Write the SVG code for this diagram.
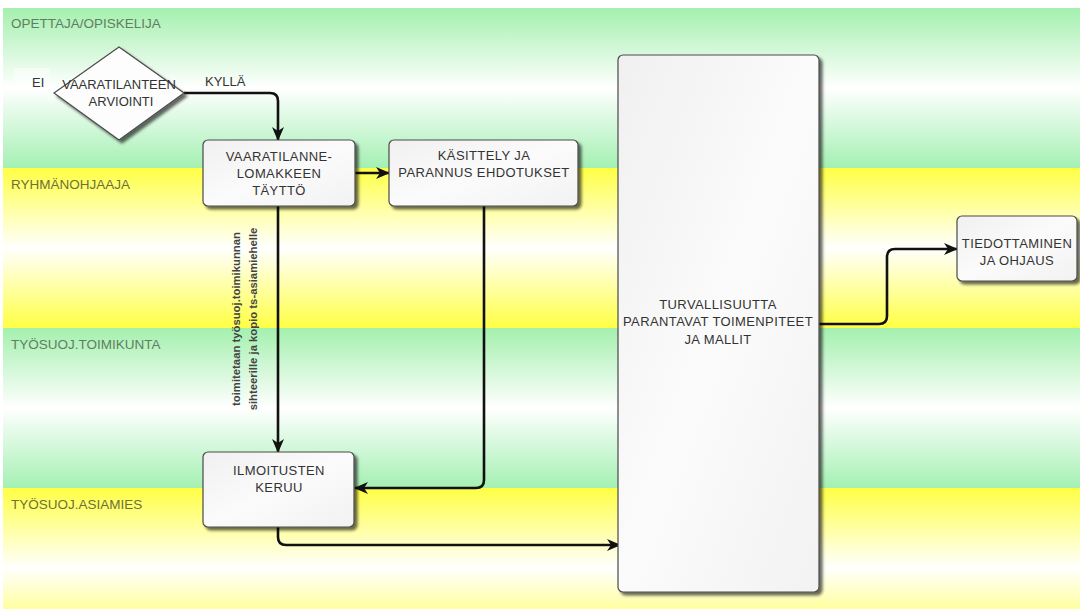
<svg xmlns="http://www.w3.org/2000/svg" width="1080" height="609" viewBox="0 0 1080 609">
<defs>
<linearGradient id="gGreen" x1="0" y1="0" x2="0" y2="1">
<stop offset="0" stop-color="#a4f0ae"/>
<stop offset="0.5" stop-color="#ffffff"/>
<stop offset="1" stop-color="#a4f0b2"/>
</linearGradient>
<linearGradient id="gYellow" x1="0" y1="0" x2="0" y2="1">
<stop offset="0" stop-color="#ffff44"/>
<stop offset="0.5" stop-color="#ffffff"/>
<stop offset="1" stop-color="#ffff44"/>
</linearGradient>
<linearGradient id="gBox" x1="0" y1="0" x2="1" y2="1">
<stop offset="0" stop-color="#f0f0f0"/>
<stop offset="0.5" stop-color="#fbfbfb"/>
<stop offset="1" stop-color="#f2f2f2"/>
</linearGradient>
<filter id="shadow" x="-10%" y="-10%" width="130%" height="130%">
<feGaussianBlur in="SourceAlpha" stdDeviation="1.5"/>
<feOffset dx="3" dy="3" result="b"/>
<feComponentTransfer><feFuncA type="linear" slope="0.6"/></feComponentTransfer>
<feMerge><feMergeNode/><feMergeNode in="SourceGraphic"/></feMerge>
</filter>
<marker id="arrow" viewBox="0 0 14 12" refX="13" refY="6" markerWidth="14" markerHeight="12" markerUnits="userSpaceOnUse" orient="auto">
<path d="M0,0 L14,6 L0,12 L4,6 z" fill="#111"/>
</marker>
</defs>
<style>
.lane{font-family:"Liberation Sans",Arial,sans-serif;font-size:13.5px}
.lg{fill:#5e7f62}
.ly{fill:#707034}
.box{fill:url(#gBox);stroke:#4a4a4a;stroke-width:1.2}
.t{font-family:"Liberation Sans",Arial,sans-serif;font-size:13px;letter-spacing:0.4px;fill:#333;text-anchor:middle}
.rt{font-family:"Liberation Sans",Arial,sans-serif;font-size:11.3px;font-weight:bold;fill:#444;text-anchor:middle}
.c{fill:none;stroke:#111;stroke-width:2.6;marker-end:url(#arrow)}
.lbl{font-family:"Liberation Sans",Arial,sans-serif;font-size:13px;fill:#333}
</style>
<rect x="0" y="0" width="1080" height="609" fill="#ffffff"/>
<g id="lanes">
<rect x="3" y="8" width="1077" height="160" fill="url(#gGreen)"/>
<rect x="3" y="168" width="1077" height="160" fill="url(#gYellow)"/>
<rect x="3" y="328" width="1077" height="160" fill="url(#gGreen)"/>
<rect x="3" y="488" width="1077" height="160" fill="url(#gYellow)"/>
<text class="lane lg" x="11" y="28">OPETTAJA/OPISKELIJA</text>
<text class="lane ly" x="11" y="189">RYHMÄNOHJAAJA</text>
<text class="lane lg" x="11" y="349">TYÖSUOJ.TOIMIKUNTA</text>
<text class="lane ly" x="11" y="509">TYÖSUOJ.ASIAMIES</text>
</g>
<g id="connectors">
<path class="c" d="M184,93 H270 Q278,93 278,101 V140"/>
<path class="c" d="M355,173 H389"/>
<path class="c" d="M278,206 V452"/>
<path class="c" d="M484,206 V480 Q484,488 476,488 H355"/>
<path class="c" d="M278,527 V537 Q278,545 286,545 H620"/>
<path class="c" d="M819,324 H879 Q887,324 887,316 V257 Q887,249 895,249 H957"/>
</g>
<g id="labels">
<rect x="14" y="68" width="36" height="24" fill="#ffffff" opacity="0.45"/>
<text class="lbl" x="32" y="87">EI</text>
<text class="lbl" x="205" y="86">KYLLÄ</text>
<text class="rt" transform="rotate(-90 240 319)" x="240" y="319">toimitetaan työsuoj.toimikunnan</text>
<text class="rt" transform="rotate(-90 257 319)" x="257" y="319">sihteerille ja kopio ts-asiamiehelle</text>
</g>
<g id="n-arviointi">
<polygon points="119,47 184,93 119,140 54,93" fill="#fdfdfd" stroke="#4a4a4a" stroke-width="1.2" filter="url(#shadow)"/>
<text class="t" x="119" y="89" style="letter-spacing:0">VAARATILANTEEN</text>
<text class="t" x="121" y="106" style="letter-spacing:0">ARVIOINTI</text>
</g>
<g id="n-lomake">
<rect class="box" x="203" y="140" width="152" height="66" rx="5" filter="url(#shadow)"/>
<text class="t" x="279" y="161">VAARATILANNE-</text>
<text class="t" x="279" y="178">LOMAKKEEN</text>
<text class="t" x="279" y="195">TÄYTTÖ</text>
</g>
<g id="n-kasittely">
<rect class="box" x="389" y="140" width="189" height="66" rx="5" filter="url(#shadow)"/>
<text class="t" x="484" y="160">KÄSITTELY JA</text>
<text class="t" x="484" y="177">PARANNUS EHDOTUKSET</text>
</g>
<g id="n-keruu">
<rect class="box" x="203" y="452" width="151" height="75" rx="5" filter="url(#shadow)"/>
<text class="t" x="279" y="475">ILMOITUSTEN</text>
<text class="t" x="279" y="492">KERUU</text>
</g>
<g id="n-turvallisuus">
<rect class="box" x="618" y="55" width="201" height="537" rx="5" filter="url(#shadow)"/>
<text class="t" x="718" y="309">TURVALLISUUTTA</text>
<text class="t" x="718" y="326">PARANTAVAT TOIMENPITEET</text>
<text class="t" x="718" y="344">JA MALLIT</text>
</g>
<g id="n-tiedottaminen">
<rect class="box" x="957" y="216" width="120" height="65" rx="5" filter="url(#shadow)"/>
<text class="t" x="1017" y="248">TIEDOTTAMINEN</text>
<text class="t" x="1017" y="265">JA OHJAUS</text>
</g>
</svg>
